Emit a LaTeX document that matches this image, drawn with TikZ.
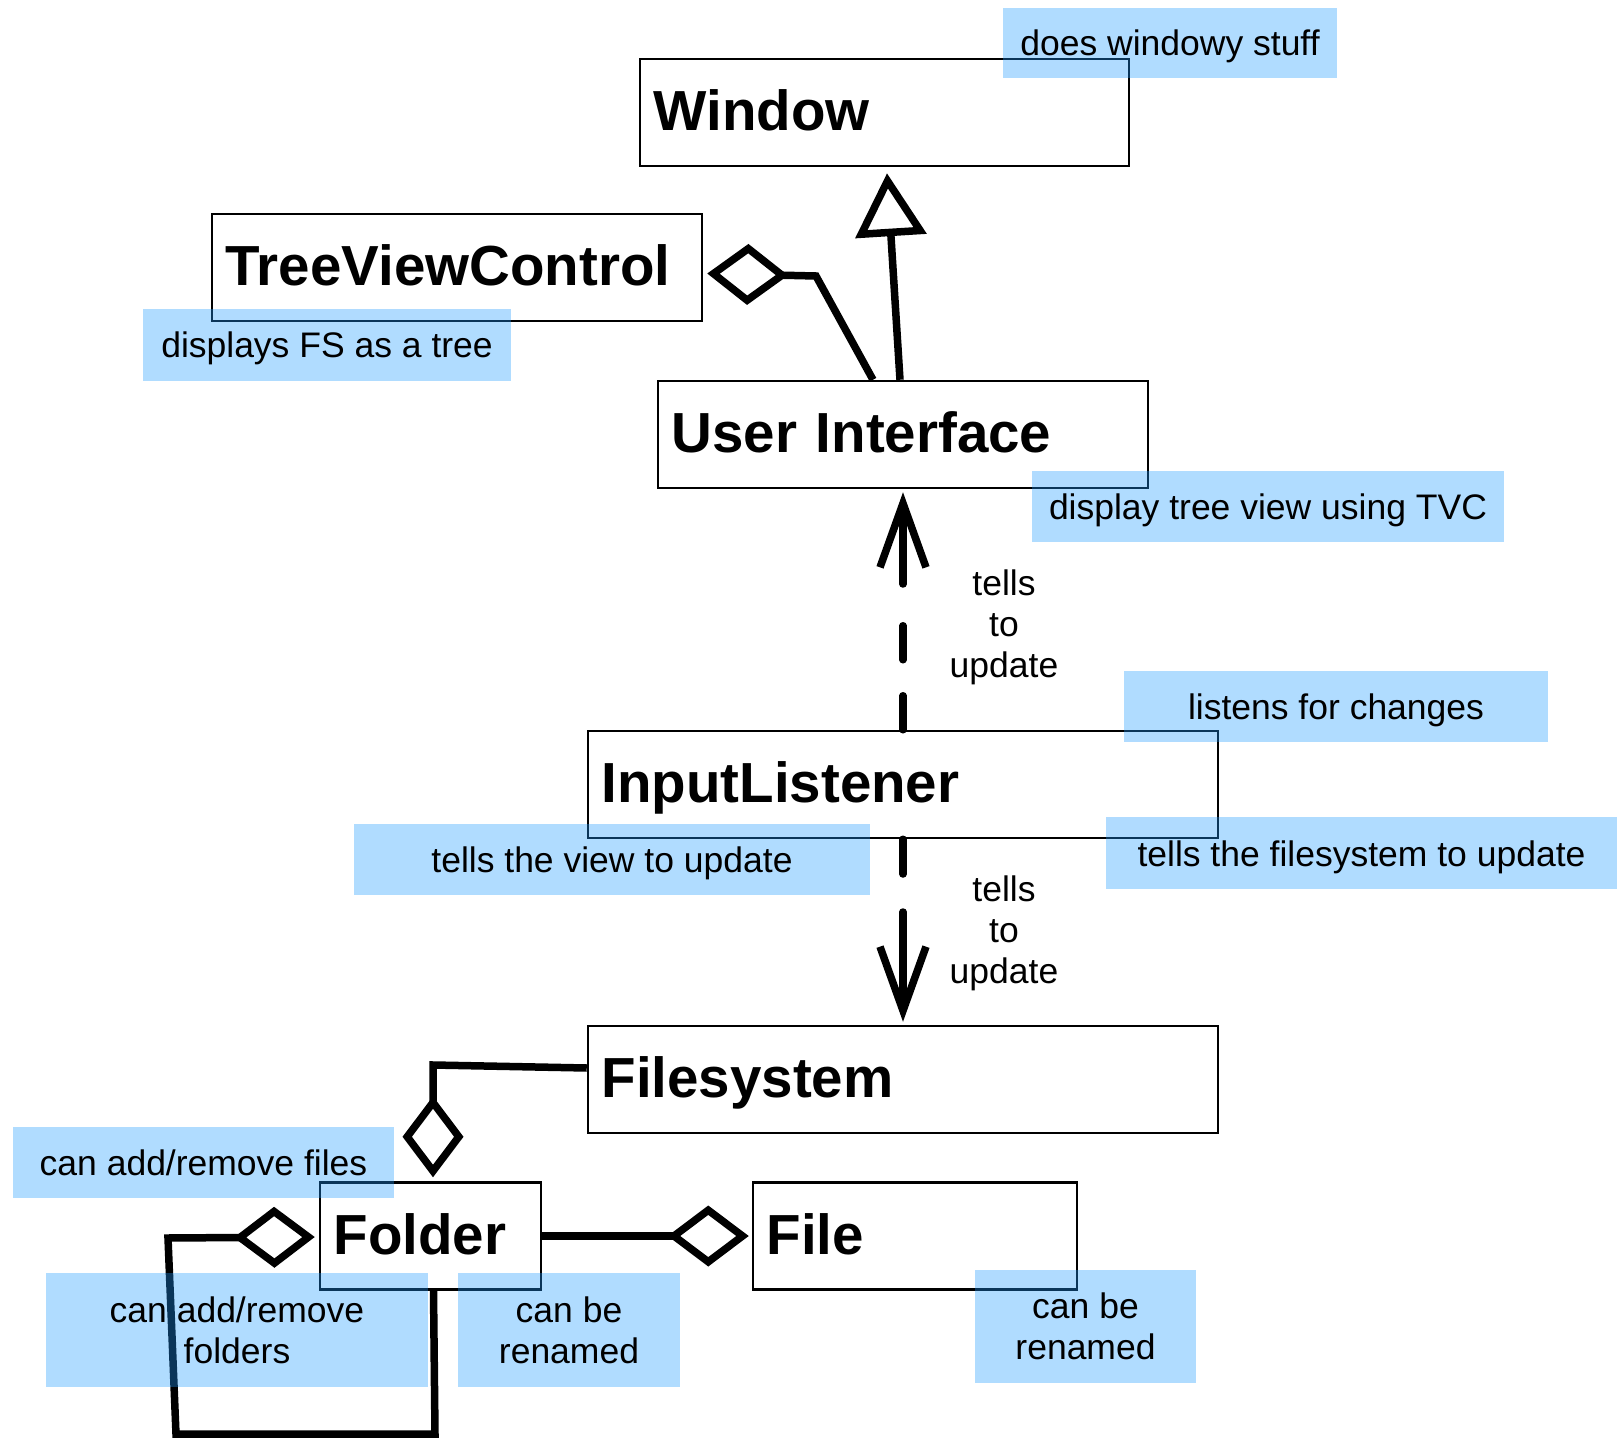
\documentclass[tikz,border=0pt]{standalone}
\usepackage{fontspec}
\setmainfont{Liberation Sans}
\usetikzlibrary{arrows.meta,calc}
\definecolor{notec}{RGB}{29,154,255}
\begin{document}
\begin{tikzpicture}[x=1pt,y=-1pt,
  cls/.style={draw, line width=2.5pt, fill=white, rectangle, minimum height=107pt,
    inner xsep=13.5pt, inner ysep=0pt, text height=40pt, text depth=4pt, align=left,
    font=\fontsize{56.5}{64}\selectfont\bfseries},
  note/.style={rectangle, fill=notec, fill opacity=0.35, text opacity=1, inner sep=0pt,
    align=center, font=\fontsize{35.5}{41}\selectfont},
  one/.style={text height=26pt, text depth=0pt},
  lbl/.style={inner sep=0pt, align=center, font=\fontsize{35.5}{41}\selectfont},
  conn/.style={line width=7.5pt, line join=miter},
  agg/.style={-{Diamond[open, length=81pt, width=61pt]}},
  barb/.style={-{Straight Barb[length=64pt, width=46pt]}},
  inh/.style={-{Triangle[open, length=63pt, width=70pt]}}
]
\useasboundingbox (0,0) rectangle (1618,1439);

% classes
\node[cls, text width=462pt] (window) at (884.5,112.5) {Window};
\node[cls, text width=463pt] (tvc) at (457,267.5) {TreeViewControl};
\node[cls, text width=463pt] (ui) at (903,434.5) {User Interface};
\node[cls, text width=603pt] (il) at (903,784.5) {InputListener};
\node[cls, text width=603pt] (fs) at (903,1079.5) {Filesystem};
\node[cls, text width=194pt] (folder) at (430.5,1236) {Folder};
\node[cls, text width=297pt] (file) at (915,1236) {File};

% inheritance
\coordinate (ihs) at ($(ui.north)+(-3,0)$);
\coordinate (ihe) at ($(window.south)+(2.5,6)$);
\draw[conn, inh] (ihs) -- (ihe);

% aggregation UI -> TVC
\coordinate (tvb) at (816,276);
\draw[conn, agg] ($(ui.north)+(-30,0)$) -- (tvb) -- ($(tvc.east)+(4,6)$);

% dashed IL -> UI
\coordinate (u1) at (903,624);
\coordinate (u2) at (903,584);
\draw[conn, line cap=round, dash pattern=on 34pt off 36pt] (il.north) -- (u1);
\draw[conn, line cap=round, barb] (u2) -- ($(ui.south)+(0,3)$);

% dashed IL -> FS
\coordinate (d1) at (903,874);
\coordinate (d2) at (903,912);
\draw[conn, line cap=round] (il.south) -- (d1);
\draw[conn, line cap=round, barb] (d2) -- ($(fs.north)+(0,-3)$);

% FS -> Folder
\coordinate (fsb) at (433,1065);
\draw[conn, agg] ($(fs.west)+(0,-11.5)$) -- (fsb) -- ($(folder.north)+(2.5,-4)$);

% Folder -> File
\draw[conn, agg] (folder.east) -- ($(file.west)+(-3,0)$);

% Folder self loop
\coordinate (l1) at (435,1434);
\coordinate (l2) at (176,1434);
\coordinate (l3) at (168,1238);
\draw[conn, agg] ($(folder.south)+(3,0)$) -- (l1) -- (l2) -- (l3) -- ($(folder.west)+(-4,1)$);

% labels
\node[lbl, anchor=north] (t1) at (1004,570) {tells\\to\\update};
\node[lbl, anchor=north] (t2) at (1004,876) {tells\\to\\update};

% notes
\node[note, one, minimum width=334pt, minimum height=70pt] (n1) at (1170,43) {does windowy stuff};
\node[note, one, minimum width=368pt, minimum height=72pt] (n2) at (327,345) {displays FS as a tree};
\node[note, one, minimum width=472pt, minimum height=71pt] (n3) at (1268,506.5) {display tree view using TVC};
\node[note, one, minimum width=424pt, minimum height=71pt] (n4) at (1336,706.5) {listens for changes};
\node[note, one, minimum width=516pt, minimum height=71pt] (n5) at (612,859.5) {tells the view to update};
\node[note, one, minimum width=511pt, minimum height=72pt] (n6) at (1361.5,853) {tells the filesystem to update};
\node[note, one, minimum width=381pt, minimum height=71pt] (n7) at (203.5,1162.5) {can add/remove files};
\node[note, minimum width=382pt, minimum height=114pt] (n8) at (237,1330) {can add/remove\\folders};
\node[note, minimum width=222pt, minimum height=114pt] (n9) at (569,1330) {can be\\renamed};
\node[note, minimum width=221pt, minimum height=113pt] (n10) at (1085.5,1326.5) {can be\\renamed};
\end{tikzpicture}
\end{document}
